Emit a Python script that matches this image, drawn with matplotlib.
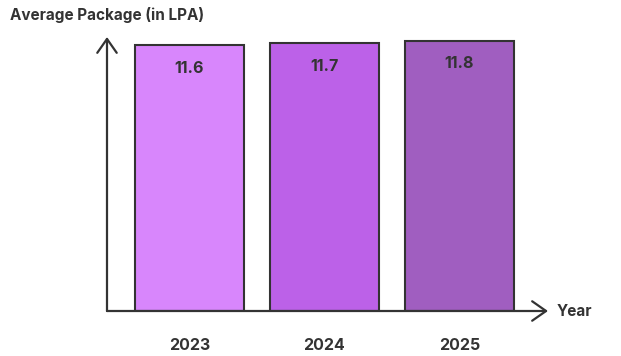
import matplotlib.pyplot as plt

years = ['2023', '2024', '2025']
packages = [11.6, 11.7, 11.8]
colors = ['#D886FC', '#BC61E8', '#A05EC0']

plt.rcParams['font.family'] = ['Inter', 'DejaVu Sans']
ink = '#333333'

W, H = 621, 356
fig = plt.figure(figsize=(W / 100, H / 100), dpi=100)
# axes box in pixels: x 107..548, y 37..311
ax = fig.add_axes([107 / W, (H - 311) / H, (548 - 107) / W, (311 - 37) / H])

x = range(len(years))
ax.bar(x, packages, width=0.807, color=colors, edgecolor=ink, linewidth=1.5, zorder=2)
ax.set_xlim(-0.611, 2.656)
ax.set_ylim(0, 11.97)

for i, v in enumerate(packages):
    ax.annotate(f'{v}', xy=(i, v), xytext=(0, -16.5), textcoords='offset points',
                ha='center', va='center', fontsize=11.5, fontweight='bold', color=ink)
    ax.annotate(years[i], xy=(i, 0), xytext=(0, -25.2), textcoords='offset points',
                ha='center', va='center', fontsize=11.5, fontweight='bold', color=ink)

for s in ax.spines.values():
    s.set_visible(False)
ax.set_xticks([])
ax.set_yticks([])

arrow = dict(arrowstyle='->,head_length=0.5,head_width=0.35', color=ink, lw=1.6,
             mutation_scale=20, shrinkA=0, shrinkB=0)
ax.annotate('', xy=(0, 1), xytext=(0, 0), xycoords='axes fraction', arrowprops=arrow, zorder=3)
ax.annotate('', xy=(1, 0), xytext=(0, 0), xycoords='axes fraction', arrowprops=arrow, zorder=3)

fig.text(10 / W, 1 - 15 / H, 'Average Package (in LPA)', ha='left', va='center',
         fontsize=11, fontweight='bold', color=ink)
fig.text(557 / W, 1 - 311 / H, 'Year', ha='left', va='center',
         fontsize=11, fontweight='bold', color=ink)

fig.savefig('out.png', dpi=100)
